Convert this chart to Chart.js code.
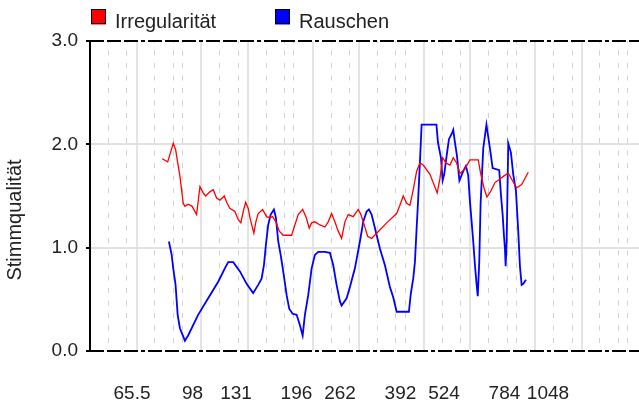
<!DOCTYPE html>
<html><head><meta charset="utf-8">
<script src="https://cdn.jsdelivr.net/npm/chart.js@4.4.1/dist/chart.umd.min.js"></script>
<style>html,body{margin:0;padding:0;background:#fff;}</style>
</head><body>
<canvas id="c" width="639" height="405"></canvas>
<script>
const seriesNames = ['Irregularität', 'Rauschen'];
const seriesColors = ['#ff0000', '#0000ff'];
const yTitle = 'Stimmqualität';

const irregFreq = [76.8, 79.5, 82.3, 83.5, 85.8, 87.6, 88.5, 90.3, 92.6, 95.2, 97.2, 99.2, 100.7, 103.4, 105.6, 107.8, 110.1, 113.1, 114.8, 117.1, 120.8, 123.4, 125.4, 127.3, 129.2, 131.3, 132.7, 136.0, 137.7, 139.7, 143.6, 147.2, 150.3, 152.8, 156.0, 159.3, 163.3, 172.1, 175.6, 179.3, 184.3, 188.1, 192.0, 194.9, 198.9, 205.2, 211.7, 216.1, 220.7, 225.3, 230.0, 234.9, 239.8, 244.8, 252.5, 260.5, 265.0, 270.5, 276.2, 283.2, 292.2, 311.0, 331.0, 337.8, 344.9, 352.2, 359.5, 367.0, 374.9, 382.7, 390.6, 407.3, 426.2, 433.5, 440.8, 450.0, 461.3, 470.9, 481.0, 491.0, 506.5, 522.5, 550.3, 558.5, 570.2, 580.9, 595.6, 610.6, 627.2, 643.1, 663.4, 683.1, 699.0, 721.1, 736.1, 751.4];
const irregValue = [1.86, 1.83, 2.01, 1.95, 1.69, 1.43, 1.40, 1.42, 1.40, 1.32, 1.59, 1.53, 1.50, 1.54, 1.56, 1.48, 1.46, 1.50, 1.44, 1.38, 1.35, 1.27, 1.24, 1.35, 1.44, 1.38, 1.29, 1.14, 1.25, 1.33, 1.37, 1.30, 1.29, 1.30, 1.25, 1.16, 1.12, 1.12, 1.22, 1.32, 1.37, 1.30, 1.19, 1.24, 1.25, 1.22, 1.20, 1.25, 1.33, 1.25, 1.16, 1.09, 1.25, 1.32, 1.30, 1.37, 1.32, 1.22, 1.11, 1.09, 1.14, 1.24, 1.33, 1.41, 1.50, 1.43, 1.41, 1.56, 1.74, 1.82, 1.80, 1.71, 1.53, 1.67, 1.87, 1.82, 1.80, 1.87, 1.82, 1.72, 1.76, 1.85, 1.85, 1.72, 1.58, 1.49, 1.55, 1.63, 1.66, 1.69, 1.72, 1.64, 1.58, 1.61, 1.67, 1.73];

const noiseFreq = [80.1, 81.5, 82.3, 83.5, 84.6, 85.8, 88.5, 90.3, 96.1, 102.3, 108.9, 113.5, 115.9, 119.6, 124.7, 130.0, 135.4, 139.7, 142.7, 144.8, 146.6, 148.7, 151.0, 154.1, 156.0, 158.3, 160.7, 163.3, 166.8, 169.5, 173.1, 177.5, 181.2, 184.3, 186.9, 190.8, 194.9, 198.9, 203.1, 211.7, 218.4, 223.0, 227.7, 232.5, 234.9, 242.4, 247.4, 255.2, 263.3, 268.8, 274.5, 278.5, 283.2, 289.1, 298.3, 307.7, 317.4, 324.0, 331.0, 357.3, 361.4, 367.0, 370.9, 374.9, 378.6, 382.7, 386.7, 424.1, 428.1, 436.2, 440.8, 445.2, 452.0, 458.5, 466.2, 470.9, 475.9, 481.9, 489.4, 501.2, 509.7, 517.0, 522.5, 528.1, 533.4, 539.1, 544.8, 548.6, 553.7, 558.5, 567.7, 579.1, 591.9, 601.9, 627.2, 633.9, 640.6, 645.8, 649.9, 652.7, 656.8, 663.4, 674.6, 684.3, 696.0, 706.0, 713.5, 721.1, 728.4, 740.7];
const noiseValue = [1.06, 0.93, 0.80, 0.64, 0.35, 0.22, 0.10, 0.15, 0.35, 0.51, 0.67, 0.80, 0.86, 0.86, 0.77, 0.65, 0.56, 0.64, 0.70, 0.83, 1.03, 1.22, 1.32, 1.37, 1.29, 1.06, 0.93, 0.77, 0.54, 0.41, 0.36, 0.35, 0.25, 0.15, 0.35, 0.54, 0.80, 0.93, 0.96, 0.96, 0.95, 0.83, 0.64, 0.48, 0.44, 0.51, 0.62, 0.80, 1.06, 1.25, 1.35, 1.37, 1.32, 1.19, 0.99, 0.83, 0.62, 0.52, 0.38, 0.38, 0.55, 0.70, 0.86, 1.19, 1.48, 1.83, 2.19, 2.19, 2.02, 1.87, 1.65, 1.71, 1.89, 2.05, 2.10, 2.14, 2.02, 1.89, 1.65, 1.74, 1.79, 1.70, 1.45, 1.25, 1.06, 0.83, 0.64, 0.53, 0.86, 1.43, 1.96, 2.19, 1.96, 1.77, 1.75, 1.51, 1.32, 1.12, 0.99, 0.82, 1.06, 2.01, 1.92, 1.71, 1.55, 1.16, 0.82, 0.64, 0.65, 0.69];

const xTickValues = [65.5, 98, 131, 196, 262, 392, 524, 784, 1048];
const xTickLabels = ['65.5', '98', '131', '196', '262', '392', '524', '784', '1048'];
const majorGridFreqs = [65.5, 98, 131, 196, 262, 392, 524, 784, 1048];
const minorGridFreqs = [55, 61.7, 73.4, 82.4, 87.3, 110, 123.5, 146.8, 164.8, 174.6, 220, 246.9, 293.7, 329.6, 349.2, 440, 493.9, 587.3, 659.3, 698.5, 880, 987.8, 1174.7, 1318.5, 1396.9];
const yTickValues = [0, 1, 2, 3];

const FONT = '"Liberation Sans", Arial, sans-serif';
const isMajor = v => majorGridFreqs.some(m => Math.abs(m - v) < 0.01);
const allGrid = majorGridFreqs.concat(minorGridFreqs).sort((a, b) => a - b);

const framePlugin = {
  id: 'frame',
  afterDraw(chart) {
    const ctx = chart.ctx;
    const area = chart.chartArea;
    const y = chart.scales.y;
    ctx.save();
    // dash-dot top and bottom borders
    ctx.strokeStyle = '#000';
    ctx.lineWidth = 2;
    ctx.setLineDash([14, 3, 14, 3, 14, 3, 4, 3]);
    [yTickValues[yTickValues.length - 1], yTickValues[0]].forEach(v => {
      const py = Math.round(y.getPixelForValue(v));
      ctx.beginPath();
      ctx.moveTo(area.left, py);
      ctx.lineTo(area.right, py);
      ctx.stroke();
    });
    ctx.setLineDash([]);
    // legend
    ctx.font = '20px ' + FONT;
    ctx.textBaseline = 'alphabetic';
    const legendX = [91, 275];
    chart.data.datasets.forEach((ds, i) => {
      const bx = legendX[i];
      ctx.fillStyle = ds.borderColor;
      ctx.fillRect(bx, 9.5, 15, 15);
      ctx.lineWidth = 1;
      ctx.strokeStyle = '#000';
      ctx.strokeRect(bx + 0.5, 9.5, 14, 14);
      ctx.fillStyle = '#222';
      ctx.fillText(ds.label, bx + 24, 28);
    });
    // y title
    ctx.translate(15, 220);
    ctx.rotate(-Math.PI / 2);
    ctx.textAlign = 'center';
    ctx.textBaseline = 'middle';
    ctx.font = '20px ' + FONT;
    ctx.fillStyle = '#222';
    ctx.fillText(yTitle, 0, 0);
    ctx.restore();
  }
};

new Chart(document.getElementById('c'), {
  type: 'line',
  data: {
    datasets: [
      {
        label: seriesNames[0],
        data: irregFreq.map((f, i) => ({ x: f, y: irregValue[i] })),
        borderColor: seriesColors[0],
        borderWidth: 1.3,
        pointRadius: 0,
        tension: 0,
        fill: false
      },
      {
        label: seriesNames[1],
        data: noiseFreq.map((f, i) => ({ x: f, y: noiseValue[i] })),
        borderColor: seriesColors[1],
        borderWidth: 1.8,
        pointRadius: 0,
        tension: 0,
        fill: false
      }
    ]
  },
  options: {
    responsive: false,
    animation: false,
    devicePixelRatio: 1,
    layout: { padding: { top: 41, left: 0, right: 0, bottom: 0 } },
    plugins: { legend: { display: false }, tooltip: { enabled: false } },
    scales: {
      x: {
        type: 'logarithmic',
        position: 'bottom',
        min: 49,
        max: 1498,
        bounds: 'data',
        afterBuildTicks: s => { s.ticks = allGrid.map(v => ({ value: v })); },
        afterFit: s => { s.height = 0; },
        ticks: { display: false, autoSkip: false },
        grid: {
          drawTicks: false,
          color: c => (c.tick && isMajor(c.tick.value)) ? '#e4e4e4' : '#d2d2d2',
          lineWidth: c => (c.tick && isMajor(c.tick.value)) ? 2 : 1
        },
        border: {
          display: false,
          dash: c => (c.tick && isMajor(c.tick.value)) ? [] : [5, 7.5],
          dashOffset: 3
        }
      },
      x2: {
        type: 'logarithmic',
        position: 'bottom',
        weight: 1,
        min: 49.51,
        max: 1922,
        bounds: 'data',
        afterBuildTicks: s => { s.ticks = xTickValues.map(v => ({ value: v })); },
        afterFit: s => { s.height = 54; },
        grid: { display: false, drawTicks: false },
        border: { display: false },
        ticks: {
          autoSkip: false,
          maxRotation: 0,
          minRotation: 0,
          padding: 31,
          color: '#222',
          font: { family: FONT, size: 19 },
          callback: (v, i) => xTickLabels[i]
        }
      },
      y: {
        min: 0,
        max: 3,
        afterBuildTicks: s => { s.ticks = yTickValues.map(v => ({ value: v })); },
        afterFit: s => { s.width = 90; },
        ticks: {
          padding: 8,
          color: '#222',
          font: { family: FONT, size: 19 },
          callback: v => Number(v).toFixed(1)
        },
        grid: {
          color: c => (c.tick && c.tick.value > 0 && c.tick.value < 3) ? '#e2e2e2' : 'rgba(0,0,0,0)',
          lineWidth: 2,
          tickColor: '#000',
          tickLength: 4,
          tickWidth: 2
        },
        border: { display: true, color: '#000', width: 2 }
      }
    }
  },
  plugins: [framePlugin]
});
</script>
</body></html>
